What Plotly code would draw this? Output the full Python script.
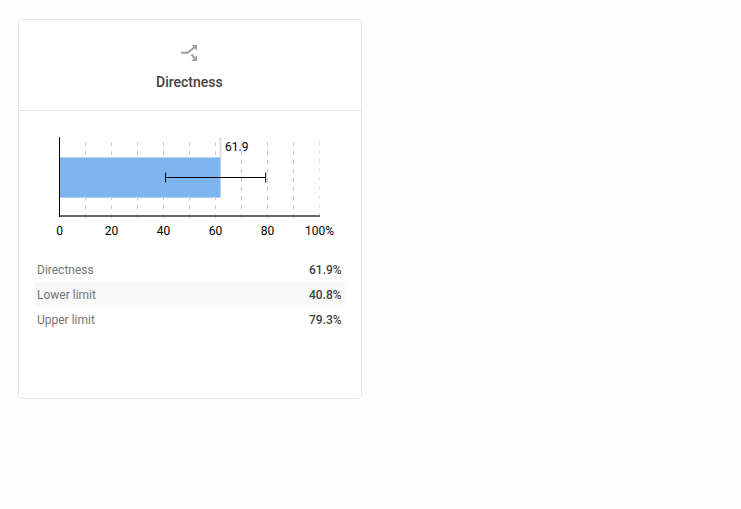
import plotly.graph_objects as go

W, H = 741, 509

# datos
categoria = ['Directness']
valor = [61.9]
inferior = [40.8]
superior = [79.3]
etiqueta = ['61.9']
tick_vals = [0, 10, 20, 30, 40, 50, 60, 70, 80, 90, 100]
tick_text = ['0', '', '20', '', '40', '', '60', '', '80', '', '100%']
filas = ['Directness', 'Lower limit', 'Upper limit']
filas_val = ['61.9%', '40.8%', '79.3%']
titulo = 'Directness'

GRIS_ICONO = '#9e9e9e'
GRIS_GRILLA = '#c8c8c8'
DASH_GRILLA = '0px,4px,4px,1px'


# pixeles a coordenadas paper
def px(x):
	return x / W

def py(y):
	return 1 - y / H

def ruta(puntos, cerrar=False):
	s = 'M' + ' L'.join('%.5f,%.5f' % (px(a), py(b)) for a, b in puntos)
	return s + (' Z' if cerrar else '')

def forma(path, fill=None, line=None, ancho=0, layer='below'):
	d = dict(type='path', xref='paper', yref='paper', path=path, layer=layer,
		line=dict(color=line if line else 'rgba(0,0,0,0)', width=ancho))
	if fill:
		d['fillcolor'] = fill
	return d

# tarjeta con esquinas redondeadas
x0, y0, x1, y1, r = 18.5, 19.5, 361.5, 398.5, 3
tarjeta = ('M%.5f,%.5f L%.5f,%.5f Q%.5f,%.5f %.5f,%.5f L%.5f,%.5f Q%.5f,%.5f %.5f,%.5f '
	'L%.5f,%.5f Q%.5f,%.5f %.5f,%.5f L%.5f,%.5f Q%.5f,%.5f %.5f,%.5f Z') % (
	px(x0 + r), py(y0), px(x1 - r), py(y0), px(x1), py(y0), px(x1), py(y0 + r),
	px(x1), py(y1 - r), px(x1), py(y1), px(x1 - r), py(y1),
	px(x0 + r), py(y1), px(x0), py(y1), px(x0), py(y1 - r),
	px(x0), py(y0 + r), px(x0), py(y0), px(x0 + r), py(y0))

shapes = [
	forma(tarjeta, fill='#ffffff', line='#e6e6e6', ancho=1),
	forma(ruta([(19, 110.5), (361, 110.5)]), line='#e6e6e6', ancho=1),
	forma(ruta([(35, 282), (345, 282), (345, 307), (35, 307)], True), fill='#f8f8f8'),
	# icono
	forma(ruta([(181, 52.7), (187.5, 52.7), (195, 47)]), line=GRIS_ICONO, ancho=2),
	forma(ruta([(191.5, 45), (197, 45), (197, 50.5)], True), fill=GRIS_ICONO),
	forma(ruta([(191.5, 54.5), (195, 58.5)]), line=GRIS_ICONO, ancho=2),
	forma(ruta([(191.5, 61), (197, 61), (197, 55.5)], True), fill=GRIS_ICONO),
	# linea del valor sobre la barra
	dict(type='line', xref='x', yref='paper', x0=valor[0], x1=valor[0],
		y0=py(157), y1=py(137), layer='above', line=dict(color='#e0e0e0', width=2)),
	# ultima linea de grilla, plotly no la dibuja en el borde del rango
	dict(type='line', xref='x', yref='paper', x0=tick_vals[-1], x1=tick_vals[-1],
		y0=py(137), y1=py(216), layer='below',
		line=dict(color=GRIS_GRILLA, width=1, dash=DASH_GRILLA)),
	# ejes como lineas
	forma(ruta([(59, 216), (320, 216)]), line='#666666', ancho=2, layer='above'),
	forma(ruta([(59.5, 137), (59.5, 217)]), line='#000000', ancho=1, layer='above'),
]

fig = go.Figure()
fig.add_trace(go.Bar(
	y=categoria, x=valor, orientation='h', width=0.5,
	marker=dict(color='#7eb4f0', line=dict(color='#b4d2f5', width=1)),
	error_x=dict(type='data', symmetric=False,
		array=[superior[0] - valor[0]], arrayminus=[valor[0] - inferior[0]],
		color='#000000', thickness=1, width=5),
	hoverinfo='skip'))

anotaciones = [
	dict(x=valor[0], y=py(147), xref='x', yref='paper', text=etiqueta[0], showarrow=False,
		xanchor='left', yanchor='middle', xshift=3, font=dict(size=12, color='#000000')),
	dict(x=px(190), y=py(82), xref='paper', yref='paper', text=titulo, showarrow=False,
		xanchor='center', yanchor='middle', font=dict(size=14, color='#424242', weight=500)),
]
for i in range(len(filas)):
	yy = py(270 + 25 * i)
	anotaciones.append(dict(x=px(35), y=yy, xref='paper', yref='paper', text=filas[i],
		showarrow=False, xanchor='left', yanchor='middle', font=dict(size=12, color='#757575')))
	anotaciones.append(dict(x=px(344), y=yy, xref='paper', yref='paper', text=filas_val[i],
		showarrow=False, xanchor='right', yanchor='middle',
		font=dict(size=12, color='#424242', weight=500)))

fig.update_layout(
	width=W, height=H,
	margin=dict(l=0, r=0, t=0, b=0, autoexpand=False),
	paper_bgcolor='#fdfdfd', plot_bgcolor='rgba(0,0,0,0)',
	font=dict(family='Roboto, sans-serif'),
	showlegend=False,
	shapes=shapes,
	annotations=anotaciones,
	xaxis=dict(domain=[px(59.5), px(319.5)], range=[0, 100], tickmode='array',
		tickvals=tick_vals, ticktext=tick_text, ticks='', showgrid=True,
		gridcolor=GRIS_GRILLA, griddash=DASH_GRILLA, gridwidth=1, zeroline=False,
		showline=False, ticklabelstandoff=4,
		tickfont=dict(size=12, color='#000000')),
	yaxis=dict(domain=[py(217.5), py(137.5)], range=[-0.5, 0.5], showticklabels=False,
		ticks='', showgrid=False, zeroline=False, showline=False),
)

fig.write_html("out.html", config=dict(displayModeBar=False),
	post_script="document.body.style.margin='0';")
